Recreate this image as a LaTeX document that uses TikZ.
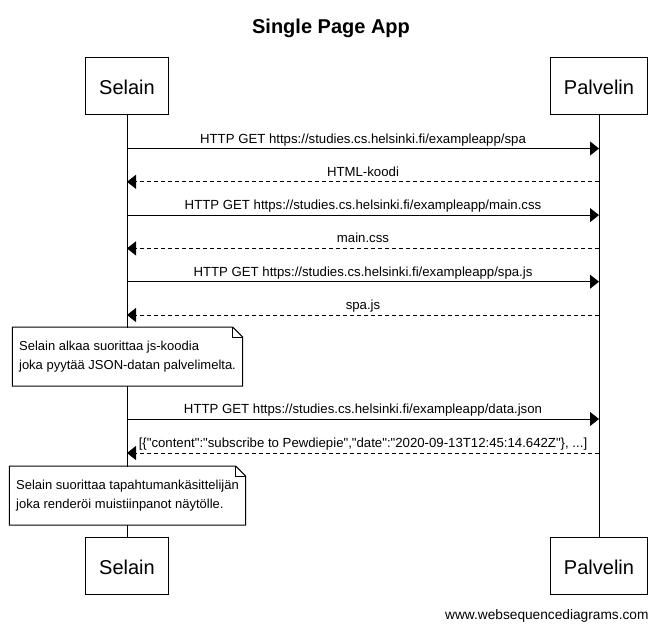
\documentclass[tikz,border=0pt]{standalone}
\usepackage{fontspec}
\setmainfont{Liberation Sans}[Ligatures=TeXOff]
\usetikzlibrary{arrows.meta}
\begin{document}
\begin{tikzpicture}[x=1pt, y=-1pt, line width=1pt, >={Triangle[length=9pt,width=14pt]},
    actor/.style={draw, fill=white, minimum height=57pt, inner xsep=13.5pt, text height=17pt, text depth=0pt, font=\fontsize{20}{24}\selectfont},
    msg/.style={->},
    reply/.style={->, dash pattern=on 4pt off 3pt},
    lbl/.style={above=5pt, inner sep=0pt, text depth=0pt, font=\fontsize{13.2}{15}\selectfont},
    note/.style={fill=white, align=left, inner xsep=6.3pt, minimum height=58pt, font=\fontsize{13}{18.5}\selectfont}]
    \useasboundingbox (0,0) rectangle (662,629);
    \node[anchor=base, font=\bfseries\fontsize{20}{24}\selectfont] (title) at (331,33) {Single Page App};
    % osapuolet
    \node[actor] (selTop) at (127,85.5) {Selain};
    \node[actor] (palTop) at (599,85.5) {Palvelin};
    \node[actor] (selBot) at (127,565.5) {Selain};
    \node[actor] (palBot) at (599,565.5) {Palvelin};
    \draw (selTop) -- (selBot);
    \draw (palTop) -- (palBot);
    \foreach \i/\y in {1/148.5, 2/181.8, 3/215.1, 4/248.4, 5/281.7, 6/315, 7/419, 8/453}
        {\coordinate (s\i) at (127,\y); \coordinate (p\i) at (599,\y);}
    % viestit
    \draw[msg] (s1) -- node[lbl]{HTTP GET https://studies.cs.helsinki.fi/exampleapp/spa} (p1);
    \draw[reply] (p2) -- node[lbl]{HTML-koodi} (s2);
    \draw[msg] (s3) -- node[lbl]{HTTP GET https://studies.cs.helsinki.fi/exampleapp/main.css} (p3);
    \draw[reply] (p4) -- node[lbl]{main.css} (s4);
    \draw[msg] (s5) -- node[lbl]{HTTP GET https://studies.cs.helsinki.fi/exampleapp/spa.js} (p5);
    \draw[reply] (p6) -- node[lbl]{spa.js} (s6);
    \draw[msg] (s7) -- node[lbl]{HTTP GET https://studies.cs.helsinki.fi/exampleapp/data.json} (p7);
    \draw[reply] (p8) -- node[lbl]{[\{"content":"subscribe to Pewdiepie","date":"2020-09-13T12:45:14.642Z"\}, ...]} (s8);
    % muistiinpanot
    \node[note] (n1) at (127.5,356.5) {Selain alkaa suorittaa js-koodia\\joka pyytää JSON-datan palvelimelta.};
    \draw (n1.south west) -- (n1.north west) -- ([xshift=-10pt]n1.north east) -- ([yshift=-10pt]n1.north east) -- (n1.south east) -- cycle;
    \draw ([xshift=-10pt]n1.north east) |- ([yshift=-10pt]n1.north east);
    \node[note] (n2) at (127.5,495.5) {Selain suorittaa tapahtumankäsittelijän\\joka renderöi muistiinpanot näytölle.};
    \draw (n2.south west) -- (n2.north west) -- ([xshift=-10pt]n2.north east) -- ([yshift=-10pt]n2.north east) -- (n2.south east) -- cycle;
    \draw ([xshift=-10pt]n2.north east) |- ([yshift=-10pt]n2.north east);
    \node[anchor=base east, inner sep=0pt, font=\fontsize{13.7}{16}\selectfont] (wsd) at (649,619) {www.websequencediagrams.com};
\end{tikzpicture}
\end{document}
